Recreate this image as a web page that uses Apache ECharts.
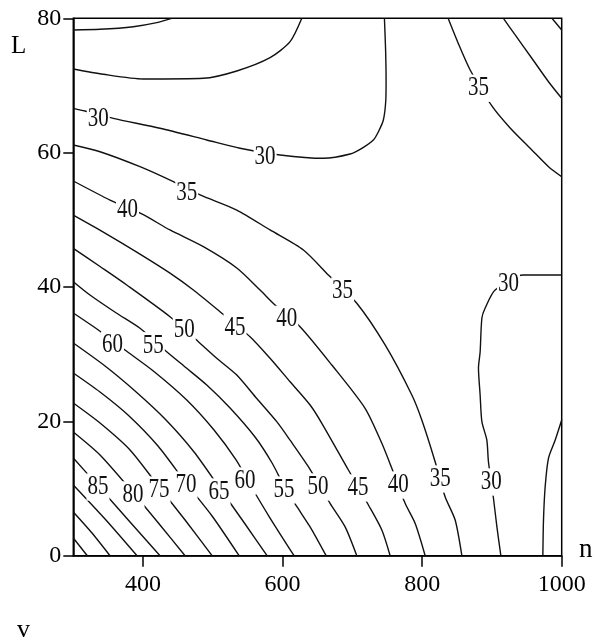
<!DOCTYPE html>
<html><head><meta charset="utf-8">
<script src="https://cdn.jsdelivr.net/npm/echarts@6/dist/echarts.min.js"></script>
<style>html,body{margin:0;padding:0;background:#fff}#c{width:593px;height:639px}</style>
</head><body><div id="c"></div><script>
// Axis ticks
const xTicks = [400, 600, 800, 1000];
const yTicks = [0, 20, 40, 60, 80];

// Contour lines, points are [n, L]
const c20 = [[300,78.26],[338.3,78.36],[386,78.75],[419.6,79.35],[441,80]];
const c25top = [[300,72.46],[343,71.67],[400.4,70.97],[486.4,71.07],[534.3,72.16],[582,74.14],[610.7,76.52],[627.5,80]];
const c30top = [[300,66.6],[316.8,66.2],[357.4,65.11],[424.3,63.63],[491.3,61.89],[539,60.65],[596.4,59.66],[658.4,59.16],[696.7,59.8],[713.5,60.65],[730.1,61.89],[737.3,63.12],[744.4,64.86],[747.9,67.84],[748.3,70.82],[747.6,75.29],[745.9,80]];
const c35left = [[300,61.14],[338.3,60.14],[395.6,57.91],[443.4,55.68],[481.7,53.7],[534.3,51.46],[582,48.49],[629.8,45.51],[665.6,41.79],[706.3,37.58],[746.9,31.37],[785.2,23.92],[799.5,20.2],[818.6,13.99],[832.9,8.78],[847.3,5.31],[856.9,0]];
const c40left = [[300,55.78],[352.6,52.95],[398.1,50.87],[438.6,48.49],[486.4,46.0],[534.3,42.83],[567.7,39.55],[589.2,37.32],[625,34.09],[670.5,28.39],[718.2,21.94],[742.2,16.73],[756.5,13.01],[775.6,7.8],[789.9,4.82],[804.3,0]];
const c45left = [[300,50.7],[343,48.17],[390.9,45.19],[438.6,42.06],[472.1,39.55],[510.3,36.32],[553.3,32.6],[582,29.39],[610.7,25.9],[639.4,22.43],[656.2,19.71],[694.3,12.76],[723,7.55],[742.2,3.83],[754.1,0]];
const c50 = [[300,45.76],[338.3,43.05],[376.6,40.3],[438.6,35.58],[479.2,31.86],[505.6,29.39],[534.3,26.9],[563,23.4],[591.6,19.95],[610.7,17.2],[636.9,13.25],[668,7.8],[689.6,4.3],[706.3,0]];
const c55 = [[300,40.79],[323.9,38.81],[362.2,36.09],[395.6,33.85],[433.9,30.37],[462.6,27.9],[491.3,25.41],[524.7,21.99],[560.5,17.67],[584.9,13.8],[603.5,10.08],[620.7,7.26],[639.4,4.28],[662.3,0]];
const c60 = [[300,36.13],[335.8,33.6],[374.1,30.62],[414.7,27.5],[462.6,23.18],[501.7,18.71],[533.3,14.25],[556.2,10.08],[582,5.61],[616.4,0]];
const c65 = [[300,31.66],[345.5,28.24],[388.5,24.52],[431.5,20.35],[473.1,15.44],[511.8,9.78],[546.2,4.72],[577.7,0]];
const c70 = [[300,27.2],[338.3,24.37],[378.4,20.95],[421.4,16.33],[462.6,10.67],[498.9,5.91],[537.6,0]];
const c75 = [[300,22.73],[338.3,19.75],[381.3,15.74],[422.9,10.23],[460.2,5.31],[498.9,0]];
const c80 = [[300,18.41],[338.3,14.99],[384.9,9.48],[424.3,4.57],[460.2,0]];
const c85 = [[300,14.54],[335.8,10.38],[381.3,5.02],[424.3,0]];
const c90 = [[300,10.53],[345.5,5.46],[391.3,0]];
const c95 = [[300,6.51],[326.8,3.38],[352.6,0]];
const c100 = [[300,2.63],[320.1,0]];
const c35right = [[837.2,80],[851.5,76.33],[868.8,72.31],[899.9,66.95],[926.1,63.67],[957.2,60.4],[981.1,57.91],[1000,56.42]];
const c40right = [[916.5,80],[933.3,77.52],[957.2,74.05],[981.1,70.56],[1000,68.09]];
const c45right = [[986,80],[1000,78.26]];
const c30right = [[1000,41.79],[945.2,41.79],[904.6,39.56],[890.3,36.87],[885.6,35.39],[883.1,30.33],[880.7,27.94],[883.1,23.92],[885.6,19.95],[892.7,17.22],[895,13.99],[902.2,8.55],[907.1,4.32],[912.8,0]];
const c25right = [[1000,20.2],[990.7,17.22],[981.1,14.54],[976.3,10.27],[973.9,5.31],[973,0]];

// Contour labels: [n, L, value]
const contourLabels = [
  [335.8,65.1,30],[574.9,59.4,30],[462.6,53.95,35],[377.7,51.46,40],
  [880.7,69.58,35],[923.7,40.42,30],[686,39.4,35],[606,35.2,40],
  [531.8,33.97,45],[459,33.6,50],[414.7,31.25,55],[356.2,31.37,60],
  [335.4,10.23,85],[385.6,9.04,80],[422.9,9.78,75],[461.6,10.52,70],
  [508.9,9.48,65],[546.2,11.12,60],[602.1,9.78,55],[650.8,10.23,50],
  [708.2,10.08,45],[765.6,10.52,40],[825.9,11.42,35],[899,10.97,30]
];

const contourLines = [c20,c25top,c30top,c35left,c40left,c45left,c50,c55,c60,c65,c70,c75,c80,c85,c90,c95,c100,c35right,c40right,c45right,c30right,c25right];

const serif = '"Liberation Serif","Times New Roman",serif';
const chart = echarts.init(document.getElementById('c'), null, {renderer:'canvas'});
const series = contourLines.map(d => ({
  type: 'line', data: d, smooth: 0.25, showSymbol: false, silent: true,
  lineStyle: {color: '#111', width: 1.4}, z: 2, clip: true
}));
series.push({
  type: 'custom', data: contourLabels, encode: {x: 0, y: 1}, z: 5, silent: true,
  renderItem: function (params, api) {
    const p = api.coord([api.value(0), api.value(1)]);
    return {
      type: 'text', x: p[0], y: p[1], scaleY: 1.3,
      style: {
        text: String(api.value(2)), fill: '#111', fontSize: 21, fontFamily: serif,
        align: 'center', verticalAlign: 'middle', backgroundColor: '#fff', padding: [0, 1]
      }
    };
  }
});

chart.setOption({
  animation: false,
  backgroundColor: '#fff',
  grid: {left: 73.3, right: 31.3, top: 18.3, bottom: 83.3, show: true, borderColor: '#000', borderWidth: 1.5, containLabel: false},
  xAxis: {
    type: 'value', min: 300, max: 1000,
    axisLine: {show: true, lineStyle: {color: '#000', width: 1.5}},
    axisTick: {show: true, inside: false, length: 11, customValues: xTicks, lineStyle: {color: '#000', width: 1.5}},
    axisLabel: {customValues: xTicks, formatter: v => String(v), color: '#000', fontSize: 24, fontFamily: serif, margin: 17},
    splitLine: {show: false}
  },
  yAxis: {
    type: 'value', min: 0, max: 80, interval: 20,
    axisLine: {show: true, lineStyle: {color: '#000', width: 1.5}},
    axisTick: {show: true, inside: false, length: 10, lineStyle: {color: '#000', width: 1.5}},
    axisLabel: {formatter: v => String(v), color: '#000', fontSize: 24, fontFamily: serif, margin: 12, padding: [10, 0, 0, 0]},
    splitLine: {show: false}
  },
  graphic: [
    {type: 'text', left: 11, top: 34, style: {text: 'L', fill: '#000', fontSize: 25, fontFamily: serif}},
    {type: 'text', x: 579, y: 536, style: {text: 'n', fill: '#000', fontSize: 27, fontFamily: serif, verticalAlign: 'top'}},
    {type: 'text', x: 17, y: 617, style: {text: 'v', fill: '#000', fontSize: 26, fontFamily: serif, verticalAlign: 'top'}}
  ],
  series: series
});
</script></body></html>
